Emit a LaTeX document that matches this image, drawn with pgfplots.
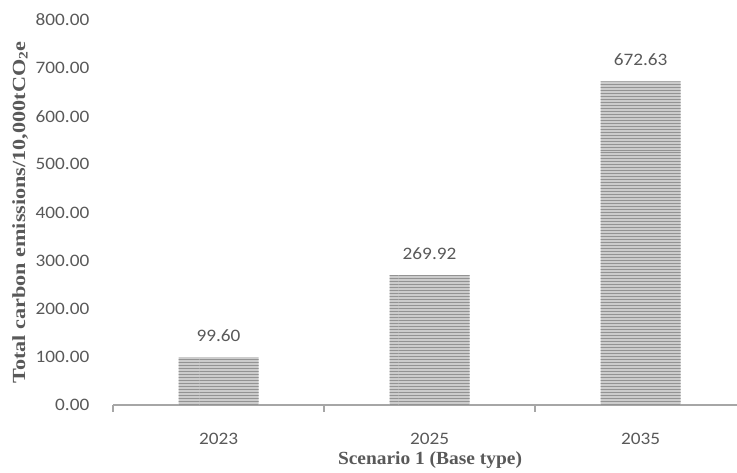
\documentclass[border=0pt]{standalone}
\usepackage{pgfplots}
\pgfplotsset{compat=1.18}
\usepackage{fontspec}
\setmainfont[FakeStretch=1.1]{Carlito}
\newfontfamily\serifb[FakeStretch=1.05]{Liberation Serif}
\newfontfamily\serify[FakeStretch=1.2]{Liberation Serif}
\usetikzlibrary{patterns}
\definecolor{txt}{HTML}{595959}
\definecolor{lab}{HTML}{595959}
\definecolor{axisgray}{HTML}{A6A6A6}
\begin{document}
\begin{tikzpicture}[x=1bp,y=1bp]
\useasboundingbox (0,0) rectangle (737,473);
\begin{axis}[
  at={(113bp,68bp)}, anchor=south west,
  scale only axis, width=624bp, height=385bp,
  xmin=-0.5, xmax=2.457, ymin=0, ymax=800,
  axis x line=bottom, axis y line=left,
  x axis line style={-, axisgray, line width=1.5bp},
  y axis line style={draw=none},
  xtick={-0.5,0.5,1.5}, xticklabels={},
  major x tick style={axisgray, line width=1.5bp},
  major tick length=7bp,
  xtick align=outside,
  extra x ticks={0,1,2}, extra x tick labels={2023,2025,2035},
  extra x tick style={tick style={draw=none}},
  ytick={0,100,...,800},
  major y tick style={draw=none},
  /pgf/number format/assume math mode=true,
  yticklabel={\pgfmathprintnumber[fixed,fixed zerofill,precision=2]{\tick}},
  yticklabel style={font=\fontsize{17.5bp}{21bp}\selectfont, text=txt, inner sep=0pt, anchor=east, xshift=-20bp},
  xticklabel style={font=\fontsize{17.5bp}{21bp}\selectfont, text=txt, inner sep=0pt, anchor=north, yshift=-20.5bp},
  ylabel={Total carbon emissions/10,000tCO\textsubscript{2}e},
  ylabel style={font=\serify\bfseries\fontsize{18.5bp}{22bp}\selectfont, text=lab, at={(axis description cs:-0.141,0.5)}, anchor=base, inner sep=0pt},
  xlabel={Scenario 1 (Base type)},
  xlabel style={font=\serifb\bfseries\fontsize{18.5bp}{22bp}\selectfont, text=lab, at={(axis description cs:0.5,0)}, anchor=base, inner sep=0pt, yshift=-60bp, xshift=5bp},
  ybar, bar width=80bp,
  nodes near coords={\pgfmathprintnumber[fixed,fixed zerofill,precision=2,1000 sep={}]{\pgfplotspointmeta}},
  nodes near coords style={font=\fontsize{17.5bp}{21bp}\selectfont, text=txt, inner sep=0pt, anchor=south, yshift=15.5bp},
  clip=false,
]
\addplot[draw=none, fill=gray!40, postaction={pattern=horizontal lines, pattern color=gray!85}] coordinates {(0,99.60) (1,269.92) (2,672.63)};
\end{axis}
\end{tikzpicture}
\end{document}
